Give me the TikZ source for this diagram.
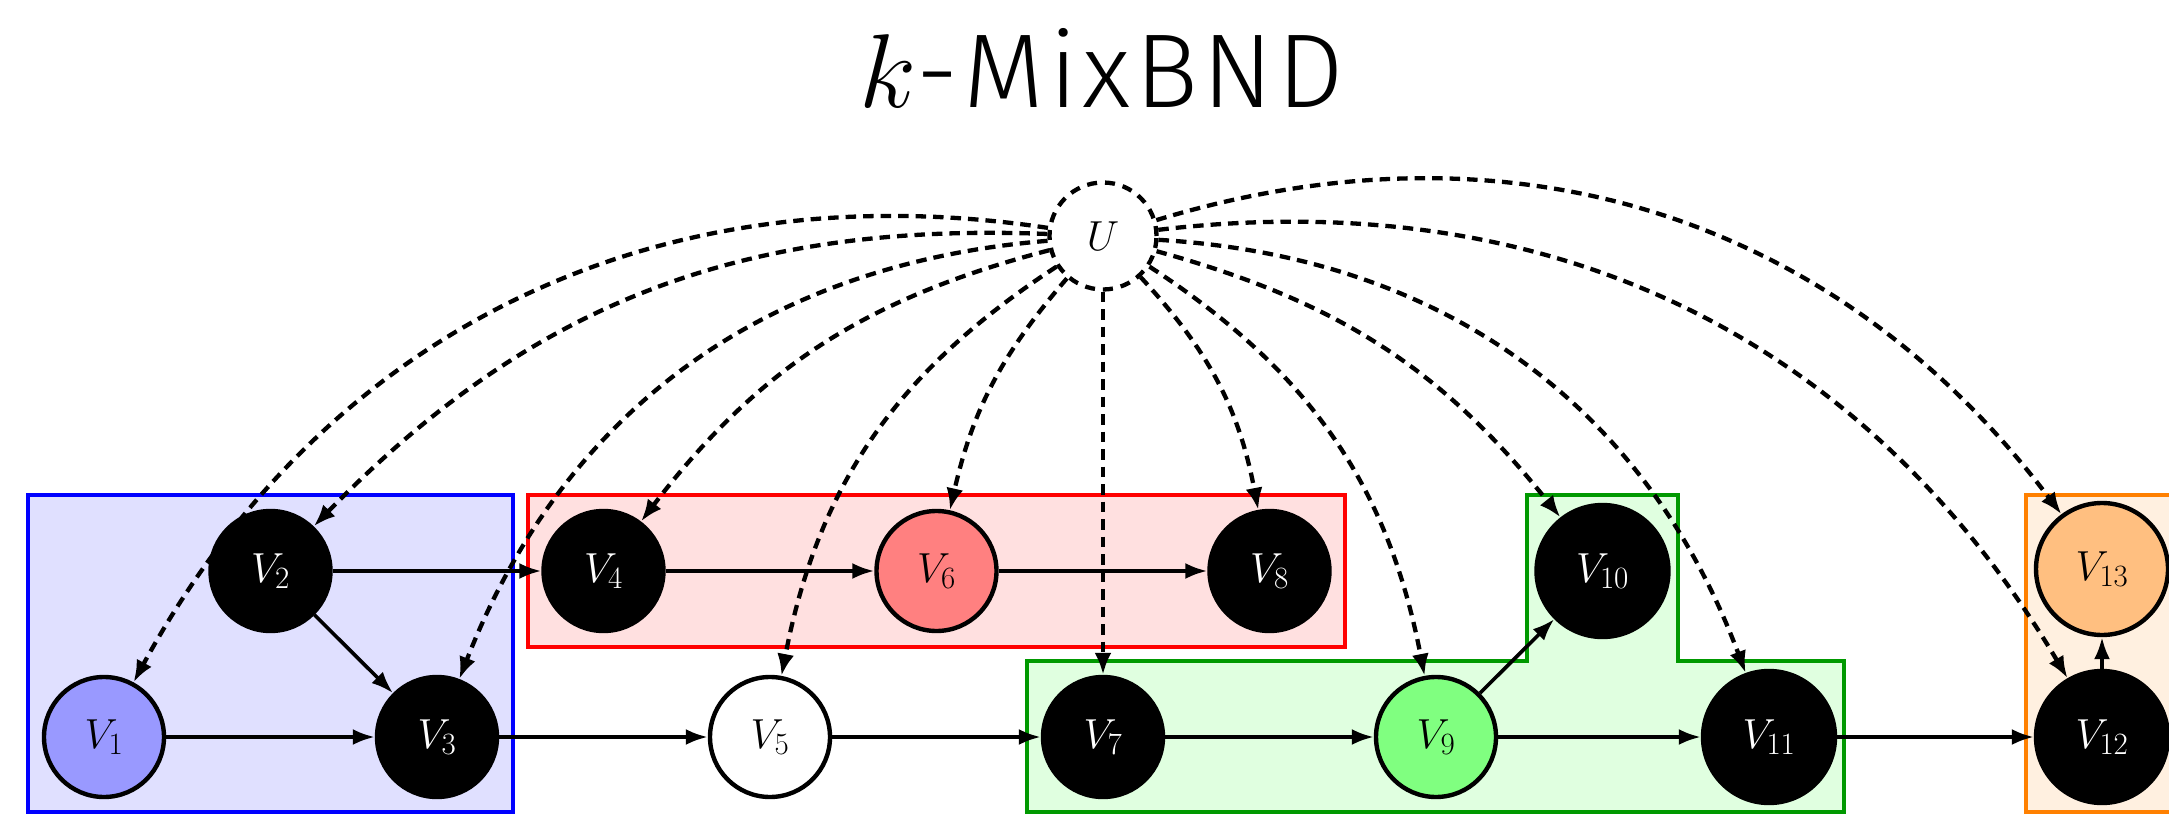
\RequirePackage{fix-cm}
\documentclass[tikz,border=0pt]{standalone}
\usepackage{fontspec}
\newfontfamily\titlefont{Fira Sans}[UprightFont={* Light}, LetterSpace=4.5]
\usetikzlibrary{arrows.meta}
\DeclareMathSizes{42}{42}{31}{24}
\DeclareMathSizes{105}{105}{75}{55}
\begin{document}
\begin{tikzpicture}[x=1pt,y=-1pt,
  vnode/.style={circle, draw=black, line width=4.4pt, inner sep=0pt,
                minimum size=120pt, font=\fontsize{42}{50}\selectfont},
  wide/.style={minimum size=132pt},
  dark/.style={fill=black, text=white},
  flow/.style={line width=3.6pt, -{Latex[length=22pt,width=16pt]}},
  latent/.style={line width=4.3pt, dash pattern=on 10.5pt off 7pt,
                 -{Latex[length=22pt,width=17pt]}},
  group/.style={line width=4.2pt},
]
\useasboundingbox (0,0) rectangle (2169,818);
\begin{scope}
\clip (0,0) rectangle (2169,818);

% title
\node[anchor=base, font=\fontsize{105}{120}\selectfont\titlefont] (title) at (1102,108) {$k$-MixBND};

% groups of variables
\draw[group, draw=blue, fill=blue!12] (28,495) rectangle (513,812);
\draw[group, draw=red, fill=red!12] (528,495) rectangle (1345,647);
\draw[group, draw=green!60!black, fill=green!12]
  (1027,661) -- (1527,661) -- (1527,495) -- (1678,495) -- (1678,661)
  -- (1844,661) -- (1844,812) -- (1027,812) -- cycle;
\draw[group, draw=orange, fill=orange!12] (2026,495) rectangle (2178,812);

% observed variables
\node[vnode, fill=blue!40]        (V1)  at (104,737)    {$V_1$};
\node[vnode, dark]                (V2)  at (270.5,571)  {$V_2$};
\node[vnode, dark]                (V3)  at (437,737)    {$V_3$};
\node[vnode, dark]                (V4)  at (603.5,571)  {$V_4$};
\node[vnode, fill=white]          (V5)  at (770,737)    {$V_5$};
\node[vnode, fill=red!50]         (V6)  at (936.5,571)  {$V_6$};
\node[vnode, dark]                (V7)  at (1103,737)   {$V_7$};
\node[vnode, dark]                (V8)  at (1269.5,571) {$V_8$};
\node[vnode, fill=green!50]       (V9)  at (1436,737)   {$V_9$};
\node[vnode, wide, dark]          (V10) at (1602.5,571) {$V_{10}$};
\node[vnode, wide, dark]          (V11) at (1769,737)   {$V_{11}$};
\node[vnode, wide, dark]          (V12) at (2102,737)   {$V_{12}$};
\node[vnode, wide, fill=orange!50] (V13) at (2102,569)  {$V_{13}$};

% latent confounder
\node[circle, draw, line width=4.3pt, dash pattern=on 10pt off 8pt, inner sep=0pt,
      minimum size=107pt, font=\fontsize{42}{50}\selectfont] (U) at (1103,236) {$U$};

% directed edges
\draw[flow] (V1) -- (V3);
\draw[flow] (V2) -- (V3);
\draw[flow] (V2) -- (V4);
\draw[flow] (V4) -- (V6);
\draw[flow] (V6) -- (V8);
\draw[flow] (V3) -- (V5);
\draw[flow] (V5) -- (V7);
\draw[flow] (V7) -- (V9);
\draw[flow] (V9) -- (V11);
\draw[flow] (V9) -- (V10);
\draw[flow] (V11) -- (V12);
\draw[flow] (V12) -- (V13);

% edges from the latent variable
\draw[latent] (U) to[bend right=35] (V1);
\draw[latent] (U) to[bend right=24] (V2);
\draw[latent] (U) to[bend right=32] (V3);
\draw[latent] (U) to[bend right=19] (V4);
\draw[latent] (U) to[bend right=23] (V5);
\draw[latent] (U) to[bend right=14] (V6);
\draw[latent] (U) -- (V7);
\draw[latent] (U) to[bend left=16] (V8);
\draw[latent] (U) to[bend left=23] (V9);
\draw[latent] (U) to[bend left=18] (V10);
\draw[latent] (U) to[bend left=33] (V11);
\draw[latent] (U) to[bend left=33] (V12);
\draw[latent] (U) to[bend left=35] (V13);
\end{scope}
\end{tikzpicture}
\end{document}
